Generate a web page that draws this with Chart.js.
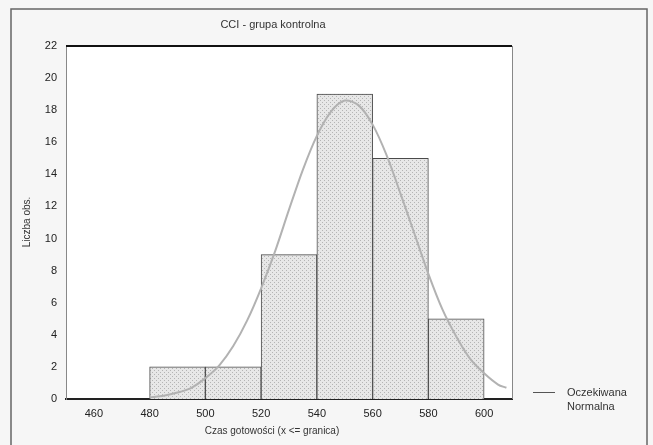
<!DOCTYPE html>
<html>
<head>
<meta charset="utf-8">
<script src="https://cdn.jsdelivr.net/npm/chart.js@4/dist/chart.umd.min.js"></script>
<style>
  html, body { margin: 0; padding: 0; background: #f6f6f6; }
  #wrap { width: 653px; height: 445px; }
</style>
</head>
<body>
<div id="wrap"><canvas id="histo" width="653" height="445"></canvas></div>
<script>
// histogram bins (centres of 20-wide classes) and counts
const binCenters = [490, 510, 530, 550, 570, 590];
const counts = [2, 2, 9, 19, 15, 5];

// expected normal curve
const curveX = [480, 485, 490, 495, 500, 505, 510, 515, 520, 525, 530, 535, 540, 545, 550,
                555, 560, 565, 570, 575, 580, 585, 590, 595, 600, 605, 608];
const curveY = [0.1, 0.2, 0.4, 0.7, 1.3, 2.1, 3.3, 4.9, 6.9, 9.2, 11.8, 14.3, 16.4, 17.9, 18.6,
                18.3, 17.1, 15.2, 12.8, 10.3, 7.8, 5.6, 3.9, 2.5, 1.6, 0.9, 0.7];

// tick labels
const xTicks = [460, 480, 500, 520, 540, 560, 580, 600];
const yTicks = [0, 2, 4, 6, 8, 10, 12, 14, 16, 18, 20, 22];

const titleText = 'CCI - grupa kontrolna';
const xTitle = 'Czas gotowości (x <= granica)';
const yTitle = 'Liczba obs.';
const legendLines = ['Oczekiwana', 'Normalna'];

// dotted grey fill like the scanned hatching
function dotPattern() {
    const c = document.createElement('canvas');
    c.width = 4; c.height = 4;
    const g = c.getContext('2d');
    g.fillStyle = '#e7e7e7';
    g.fillRect(0, 0, 4, 4);
    g.fillStyle = '#b4b4b4';
    g.fillRect(0, 0, 1, 1);
    g.fillRect(2, 2, 1, 1);
    return g.createPattern(c, 'repeat');
}

const decor = {
    id: 'decor',
    beforeDraw(chart) {
        const { ctx, chartArea: a } = chart;
        ctx.save();
        ctx.fillStyle = '#ffffff';
        ctx.fillRect(a.left, a.top, a.right - a.left, a.bottom - a.top);
        ctx.restore();
    },
    afterDraw(chart) {
        const { ctx, chartArea: a } = chart;
        ctx.save();
        // outer frame
        ctx.strokeStyle = '#666';
        ctx.lineWidth = 1.5;
        ctx.strokeRect(11, 9, 636, 460);
        // top and right edges of plot
        ctx.strokeStyle = '#111';
        ctx.lineWidth = 2;
        ctx.beginPath();
        ctx.moveTo(a.left, a.top);
        ctx.lineTo(a.right, a.top);
        ctx.stroke();
        ctx.strokeStyle = '#888';
        ctx.lineWidth = 1;
        ctx.beginPath();
        ctx.moveTo(a.right + 0.5, a.top);
        ctx.lineTo(a.right + 0.5, a.bottom);
        ctx.stroke();

        ctx.fillStyle = '#333';
        ctx.font = '11px "Liberation Sans", Arial, sans-serif';
        ctx.textAlign = 'center';
        ctx.textBaseline = 'middle';
        ctx.fillText(titleText, 273, 25);
        ctx.font = '10px "Liberation Sans", Arial, sans-serif';
        ctx.fillText(xTitle, 272, 431);

        ctx.save();
        ctx.translate(27, 222);
        ctx.rotate(-Math.PI / 2);
        ctx.fillText(yTitle, 0, 0);
        ctx.restore();

        // legend
        ctx.strokeStyle = '#555';
        ctx.lineWidth = 1;
        ctx.beginPath();
        ctx.moveTo(533, 392.5);
        ctx.lineTo(555, 392.5);
        ctx.stroke();
        ctx.textAlign = 'left';
        ctx.font = '11px "Liberation Sans", Arial, sans-serif';
        ctx.fillText(legendLines[0], 567, 393);
        ctx.fillText(legendLines[1], 567, 407);
        ctx.restore();
    }
};

new Chart(document.getElementById('histo'), {
    type: 'bar',
    data: {
        datasets: [{
            type: 'line',
            label: 'Oczekiwana Normalna',
            data: curveX.map((x, i) => ({ x: x, y: curveY[i] })),
            borderColor: '#b2b2b2',
            borderWidth: 2,
            pointRadius: 0,
            tension: 0.3,
            fill: false,
            order: 0
        }, {
            label: 'Liczba obs.',
            data: binCenters.map((x, i) => ({ x: x, y: counts[i] })),
            backgroundColor: dotPattern(),
            borderColor: '#4a4a4a',
            borderWidth: { left: 1, right: 1, top: 1, bottom: 0 },
            borderSkipped: false,
            barPercentage: 1,
            categoryPercentage: 1,
            order: 1
        }]
    },
    options: {
        responsive: false,
        animation: false,
        layout: { padding: { top: 46, right: 141, left: 0, bottom: 0 } },
        plugins: {
            legend: { display: false },
            tooltip: { enabled: false }
        },
        scales: {
            x: {
                type: 'linear',
                min: 450,
                max: 610,
                offset: false,
                afterBuildTicks: (s) => { s.ticks = xTicks.map(v => ({ value: v })); },
                afterFit: (s) => { s.height = 46; },
                grid: { display: false, drawTicks: false, offset: false },
                border: { color: '#222', width: 2 },
                ticks: {
                    padding: 8,
                    color: '#222',
                    font: { size: 11, family: '"Liberation Sans", Arial, sans-serif' }
                }
            },
            y: {
                min: 0,
                max: 22,
                afterBuildTicks: (s) => { s.ticks = yTicks.map(v => ({ value: v })); },
                afterFit: (s) => { s.width = 66; },
                grid: { display: false, drawTicks: false },
                border: { color: '#888', width: 1 },
                ticks: {
                    padding: 9,
                    color: '#222',
                    font: { size: 11, family: '"Liberation Sans", Arial, sans-serif' }
                }
            }
        }
    },
    plugins: [decor]
});
</script>
</body>
</html>
